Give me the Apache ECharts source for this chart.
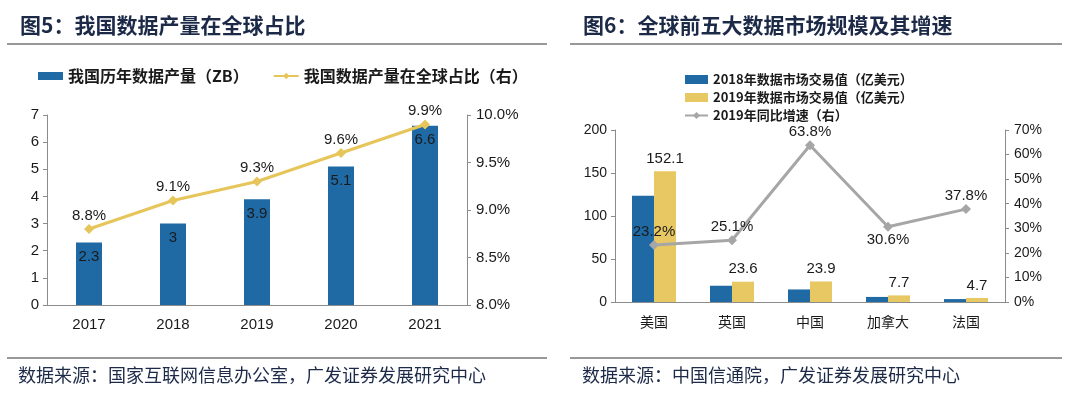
<!DOCTYPE html>
<html><head><meta charset="utf-8">
<script src="https://cdn.jsdelivr.net/npm/echarts@6/dist/echarts.min.js"></script>
<style>html,body{margin:0;padding:0;background:#fff}#c{width:1080px;height:393px}</style>
</head><body><div id="c"></div>
<script>
// Left chart data
const yearsL = ['2017','2018','2019','2020','2021'];
const outputZB = [2.3, 3, 3.9, 5.1, 6.6];
const shareGlobal = [8.8, 9.1, 9.3, 9.6, 9.9];
// Right chart data
const countries = ['美国','英国','中国','加拿大','法国'];
const trade2018 = [123.5, 18.9, 14.6, 5.9, 3.4];
const trade2019 = [152.1, 23.6, 23.9, 7.7, 4.7];
const growth2019 = [23.2, 25.1, 63.8, 30.6, 37.8];
const growthLabelPos = ['top','top','top','bottom','top'];

const FONT = 'Liberation Sans, Arial, sans-serif';
const CJK = '"Noto Sans CJK SC", sans-serif';
const BLUE = '#1f6aa5', GOLD = '#e6c55a', GRAY = '#a6a6a6', TXT = '#1a1a1a', AX = '#8c8c8c';

const chart = echarts.init(document.getElementById('c'), null, {renderer:'canvas'});
chart.setOption({
  backgroundColor:'#fff',
  animation:false,
  graphic:[
    {type:'text', left:20, top:15, style:{text:'图5：我国数据产量在全球占比', font:'bold 21px '+CJK, fill:'#1c2a48'}},
    {type:'text', left:583, top:15, style:{text:'图6：全球前五大数据市场规模及其增速', font:'bold 21px '+CJK, fill:'#1c2a48'}},
    {type:'line', shape:{x1:7,y1:44,x2:547,y2:44}, style:{stroke:'#333',lineWidth:1}},
    {type:'line', shape:{x1:570,y1:44,x2:1062,y2:44}, style:{stroke:'#333',lineWidth:1}},
    {type:'line', shape:{x1:7,y1:358,x2:547,y2:358}, style:{stroke:'#333',lineWidth:1}},
    {type:'line', shape:{x1:570,y1:358,x2:1062,y2:358}, style:{stroke:'#333',lineWidth:1}},
    {type:'text', left:18, top:366, style:{text:'数据来源：国家互联网信息办公室，广发证券发展研究中心', font:'18px '+CJK, fill:'#1c2a48'}},
    {type:'text', left:582, top:366, style:{text:'数据来源：中国信通院，广发证券发展研究中心', font:'18px '+CJK, fill:'#1c2a48'}}
  ],
  legend:[
    {left:38, top:68, padding:0, itemWidth:25, itemHeight:8, itemGap:24,
     textStyle:{fontFamily:CJK, fontWeight:'bold', fontSize:16, color:TXT},
     data:[{name:'我国历年数据产量（ZB）', icon:'rect'},{name:'我国数据产量在全球占比（右）'}]},
    {left:684, top:73, padding:0, orient:'vertical', itemWidth:23, itemHeight:9, itemGap:5,
     textStyle:{fontFamily:CJK, fontWeight:'bold', fontSize:13, color:TXT},
     data:[{name:'2018年数据市场交易值（亿美元）', icon:'rect'},{name:'2019年数据市场交易值（亿美元）', icon:'rect'},{name:'2019年同比增速（右）'}]}
  ],
  grid:[
    {left:47, right:613, top:115, bottom:88},
    {left:615, right:75, top:130, bottom:91}
  ],
  xAxis:[
    {type:'category', gridIndex:0, data:yearsL, axisLine:{lineStyle:{color:AX}}, axisTick:{show:false},
     axisLabel:{fontFamily:FONT, fontSize:15, color:TXT, margin:12}},
    {type:'category', gridIndex:1, data:countries, axisLine:{lineStyle:{color:AX}}, axisTick:{show:false},
     axisLabel:{fontFamily:CJK, fontSize:14, color:TXT, margin:13}}
  ],
  yAxis:[
    {type:'value', gridIndex:0, min:0, max:7, interval:1, splitLine:{show:false},
     axisLine:{show:true, lineStyle:{color:AX}}, axisTick:{show:true, length:4, lineStyle:{color:AX}},
     axisLabel:{fontFamily:FONT, fontSize:15, color:TXT, margin:8}},
    {type:'value', gridIndex:0, position:'right', min:8.0, max:10.0, interval:0.5, splitLine:{show:false},
     axisLine:{show:true, lineStyle:{color:AX}}, axisTick:{show:true, length:4, lineStyle:{color:AX}},
     axisLabel:{fontFamily:FONT, fontSize:15, color:TXT, margin:9, formatter:v=>v.toFixed(1)+'%'}},
    {type:'value', gridIndex:1, min:0, max:200, interval:50, splitLine:{show:false},
     axisLine:{show:true, lineStyle:{color:AX}}, axisTick:{show:true, length:4, lineStyle:{color:AX}},
     axisLabel:{fontFamily:FONT, fontSize:14, color:TXT, margin:8}},
    {type:'value', gridIndex:1, position:'right', min:0, max:70, interval:10, splitLine:{show:false},
     axisLine:{show:true, lineStyle:{color:AX}}, axisTick:{show:true, length:4, lineStyle:{color:AX}},
     axisLabel:{fontFamily:FONT, fontSize:14, color:TXT, margin:9, formatter:v=>v+'%'}}
  ],
  series:[
    {name:'我国历年数据产量（ZB）', type:'bar', xAxisIndex:0, yAxisIndex:0, data:outputZB, barWidth:26,
     itemStyle:{color:BLUE},
     label:{show:true, position:'insideTop', distance:7, fontFamily:FONT, fontSize:15, color:TXT}},
    {name:'我国数据产量在全球占比（右）', type:'line', xAxisIndex:0, yAxisIndex:1, data:shareGlobal,
     symbol:'diamond', symbolSize:10, lineStyle:{color:GOLD, width:3}, itemStyle:{color:GOLD}, z:5,
     label:{show:true, position:'top', distance:1, fontFamily:FONT, fontSize:15, color:TXT, formatter:p=>p.value.toFixed(1)+'%'}},
    {name:'2018年数据市场交易值（亿美元）', type:'bar', xAxisIndex:1, yAxisIndex:2, data:trade2018,
     barWidth:22, barGap:'0%', itemStyle:{color:BLUE}},
    {name:'2019年数据市场交易值（亿美元）', type:'bar', xAxisIndex:1, yAxisIndex:2, data:trade2019,
     barWidth:22, barGap:'0%', itemStyle:{color:'#e8c862'},
     label:{show:true, position:'top', distance:5, fontFamily:FONT, fontSize:15, color:TXT}},
    {name:'2019年同比增速（右）', type:'line', xAxisIndex:1, yAxisIndex:3,
     data:growth2019.map((v,i)=>({value:v, label:{position:growthLabelPos[i]}})),
     symbol:'diamond', symbolSize:10, lineStyle:{color:GRAY, width:3}, itemStyle:{color:GRAY}, z:5,
     label:{show:true, distance:1, fontFamily:FONT, fontSize:15, color:TXT, formatter:p=>p.value.toFixed(1)+'%'}}
  ]
});
</script></body></html>
